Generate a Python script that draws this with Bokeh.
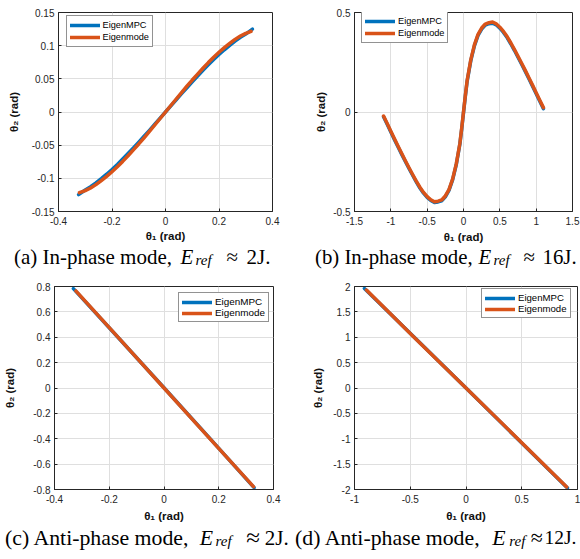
from bokeh.plotting import figure
from bokeh.layouts import column, row
from bokeh.models import Range1d, FixedTicker, Label, Legend, LegendItem
from bokeh.embed import file_html
from bokeh.resources import INLINE

# ---------------- data ----------------
# (a) In-phase mode, E_ref ~ 2 J
a_mpc_x = [-0.325, -0.300, -0.280, -0.260, -0.240, -0.220, -0.200, -0.180, -0.160, -0.140,
           -0.120, -0.100, -0.080, -0.060, -0.040, -0.020, 0.000, 0.020, 0.040, 0.060,
           0.080, 0.100, 0.120, 0.140, 0.160, 0.180, 0.200, 0.220, 0.240, 0.260,
           0.280, 0.300, 0.325]
a_mpc_y = [-0.1245, -0.1175, -0.1125, -0.1068, -0.1005, -0.0938, -0.0866, -0.0790, -0.0710, -0.0627,
           -0.0542, -0.0455, -0.0366, -0.0276, -0.0184, -0.0092, 0.0000, 0.0092, 0.0184, 0.0276,
           0.0366, 0.0455, 0.0542, 0.0627, 0.0710, 0.0790, 0.0866, 0.0938, 0.1005, 0.1068,
           0.1125, 0.1175, 0.1250]
a_mode_x = [-0.322, -0.300, -0.280, -0.260, -0.240, -0.220, -0.200, -0.180, -0.160, -0.140,
            -0.120, -0.100, -0.080, -0.060, -0.040, -0.020, 0.000, 0.020, 0.040, 0.060,
            0.080, 0.100, 0.120, 0.140, 0.160, 0.180, 0.200, 0.220, 0.240, 0.260,
            0.280, 0.300, 0.320]
a_mode_y = [-0.1215, -0.1185, -0.1145, -0.1095, -0.1035, -0.0970, -0.0900, -0.0825, -0.0745, -0.0660,
            -0.0570, -0.0482, -0.0389, -0.0293, -0.0196, -0.0098, 0.0000, 0.0098, 0.0196, 0.0293,
            0.0389, 0.0482, 0.0570, 0.0660, 0.0745, 0.0825, 0.0900, 0.0970, 0.1035, 0.1095,
            0.1145, 0.1185, 0.1215]

# (b) In-phase mode, E_ref ~ 16 J
b_x = [-1.100, -1.050, -1.000, -0.950, -0.900, -0.850, -0.800, -0.750, -0.700, -0.650,
       -0.600, -0.550, -0.500, -0.450, -0.400, -0.350, -0.300, -0.250, -0.200, -0.150,
       -0.100, -0.050, -0.025, 0.000, 0.025, 0.050, 0.100, 0.150, 0.200, 0.250,
       0.300, 0.350, 0.400, 0.450, 0.500, 0.550, 0.600, 0.650, 0.700, 0.750,
       0.800, 0.850, 0.900, 0.950, 1.000, 1.050, 1.100]
b_mpc_y = [-0.024, -0.062, -0.101, -0.139, -0.176, -0.213, -0.249, -0.284, -0.318, -0.351,
           -0.382, -0.408, -0.429, -0.445, -0.455, -0.452, -0.446, -0.426, -0.394, -0.341,
           -0.266, -0.162, -0.086, -0.004, 0.078, 0.154, 0.257, 0.332, 0.385, 0.417,
           0.437, 0.444, 0.446, 0.438, 0.421, 0.400, 0.374, 0.343, 0.310, 0.275,
           0.240, 0.204, 0.167, 0.130, 0.092, 0.054, 0.017]
b_mode_y = [-0.020, -0.058, -0.097, -0.135, -0.172, -0.209, -0.245, -0.280, -0.314, -0.347,
            -0.378, -0.404, -0.425, -0.441, -0.451, -0.448, -0.442, -0.422, -0.390, -0.337,
            -0.262, -0.158, -0.082, 0.000, 0.082, 0.158, 0.262, 0.337, 0.390, 0.422,
            0.442, 0.449, 0.452, 0.443, 0.426, 0.405, 0.379, 0.348, 0.315, 0.280,
            0.245, 0.209, 0.172, 0.135, 0.097, 0.059, 0.022]

# (c) Anti-phase mode, E_ref ~ 2 J
c_mpc_x = [-0.331, -0.165, 0.000, 0.165, 0.329]
c_mpc_y = [0.783, 0.392, 0.002, -0.391, -0.785]
c_mode_x = [-0.322, -0.160, 0.000, 0.160, 0.327]
c_mode_y = [0.765, 0.381, 0.000, -0.381, -0.777]

# (d) Anti-phase mode, E_ref ~ 12 J
d_mpc_x = [-0.911, -0.450, 0.000, 0.450, 0.910]
d_mpc_y = [1.960, 0.970, 0.000, -0.975, -1.970]
d_mode_x = [-0.893, -0.450, 0.000, 0.450, 0.903]
d_mode_y = [1.930, 0.965, 0.000, -0.970, -1.950]

# ticks
a_xticks = [-0.4, -0.2, 0, 0.2, 0.4]
a_xlabels = ["-0.4", "-0.2", "0", "0.2", "0.4"]
a_yticks = [-0.15, -0.1, -0.05, 0, 0.05, 0.1, 0.15]
a_ylabels = ["-0.15", "-0.1", "-0.05", "0", "0.05", "0.1", "0.15"]
b_xticks = [-1.5, -1, -0.5, 0, 0.5, 1, 1.5]
b_xlabels = ["-1.5", "-1", "-0.5", "0", "0.5", "1", "1.5"]
b_yticks = [-0.5, 0, 0.5]
b_ylabels = ["-0.5", "0", "0.5"]
c_xticks = [-0.4, -0.2, 0, 0.2, 0.4]
c_xlabels = ["-0.4", "-0.2", "0", "0.2", "0.4"]
c_yticks = [-0.8, -0.6, -0.4, -0.2, 0, 0.2, 0.4, 0.6, 0.8]
c_ylabels = ["-0.8", "-0.6", "-0.4", "-0.2", "0", "0.2", "0.4", "0.6", "0.8"]
d_xticks = [-1, -0.5, 0, 0.5, 1]
d_xlabels = ["-1", "-0.5", "0", "0.5", "1"]
d_yticks = [-2, -1.5, -1, -0.5, 0, 0.5, 1, 1.5, 2]
d_ylabels = ["-2", "-1.5", "-1", "-0.5", "0", "0.5", "1", "1.5", "2"]

series_names = ["EigenMPC", "Eigenmode"]
captions = [
    ("(a) In-phase mode,", "2J."),
    ("(b) In-phase mode,", "16J."),
    ("(c) Anti-phase mode,", "2J."),
    ("(d) Anti-phase mode,", "12J."),
]

BLUE = "#0072BD"
ORANGE = "#D95319"
DARK = "#262626"
GRID = "#dfdfdf"
SANS = "Liberation Sans"
SERIF = "Liberation Serif"
LABEL_SHIFT = 7  # compensates the label box offset observed in the render


def make_panel(cell, frame, xr, yr, xt, xtl, yt, ytl, mpc, mode, leg, ylab_so, xlab_so, leg_font):
    cx0, cy0, cx1, cy1 = cell
    fx0, fy0, fx1, fy1 = frame
    W = round(cx1 - cx0)
    H = round(cy1 - cy0)
    L = round(fx0 - cx0)
    R = round(cx1 - fx1)
    T = round(fy0 - cy0)
    B = round(cy1 - fy1)
    fw = W - L - R
    fh = H - T - B
    p = figure(width=W, height=H, x_range=Range1d(*xr), y_range=Range1d(*yr),
               output_backend="svg", toolbar_location=None,
               min_border_left=L, min_border_right=R, min_border_top=T, min_border_bottom=B)
    p.background_fill_color = "white"
    p.border_fill_color = "white"
    p.outline_line_color = DARK
    p.outline_line_width = 1

    xtick = FixedTicker(ticks=xt, minor_ticks=[])
    ytick = FixedTicker(ticks=yt, minor_ticks=[])
    for ax, tk, tl in ((p.xaxis[0], xtick, xtl), (p.yaxis[0], ytick, ytl)):
        ax.ticker = tk
        ax.major_label_overrides = {t: s for t, s in zip(tk.ticks, tl)}
        ax.axis_line_color = DARK
        ax.major_tick_line_color = DARK
        ax.major_tick_in = 3
        ax.major_tick_out = 0
        ax.minor_tick_line_color = None
        ax.major_label_text_font = SANS
        ax.major_label_text_font_size = "10px"
        ax.major_label_text_color = DARK
        ax.axis_label_text_font = SANS
        ax.axis_label_text_font_size = "11.5px"
        ax.axis_label_text_font_style = "bold"
        ax.axis_label_text_color = "#111111"
    p.xaxis[0].axis_label = "\u03b8\u2081 (rad)"
    p.yaxis[0].axis_label = "\u03b8\u2082 (rad)"
    p.xaxis[0].major_label_standoff = 5
    p.yaxis[0].major_label_standoff = 4
    p.xaxis[0].axis_label_standoff = xlab_so
    p.yaxis[0].axis_label_standoff = ylab_so

    p.xgrid.ticker = xtick
    p.ygrid.ticker = ytick
    p.xgrid.grid_line_color = GRID
    p.ygrid.grid_line_color = GRID

    lw = 3.5
    r1 = p.line(mpc[0], mpc[1], line_color=BLUE, line_width=lw, line_cap="round", line_join="round")
    r2 = p.line(mode[0], mode[1], line_color=ORANGE, line_width=lw, line_cap="round", line_join="round")

    lx, ly_top, lw_box, lh_box = leg
    row_h = round((lh_box - 5) / 2)
    legend = Legend(items=[LegendItem(label=series_names[0], renderers=[r1]),
                           LegendItem(label=series_names[1], renderers=[r2])],
                    label_text_font=SANS, label_text_font_size=f"{leg_font:.1f}px",
                    label_text_color="#000000",
                    glyph_width=30, glyph_height=row_h, label_height=row_h,
                    label_standoff=3, padding=3, spacing=0, margin=0,
                    border_line_color=DARK, border_line_width=1,
                    background_fill_color="white", background_fill_alpha=1.0)
    if lx >= 0:
        x_off = lx
    else:
        x_off = fw + lx - lw_box
    y_off = fh - ly_top - lh_box
    legend.location = (x_off, y_off)
    p.add_layout(legend)
    return p


def make_caption(cell, cap, pos):
    cx0, cy0, cx1, cy1 = cell
    W = round(cx1 - cx0)
    H = round(cy1 - cy0)
    c = figure(width=W, height=H, x_range=Range1d(0, 1), y_range=Range1d(0, 1),
               output_backend="svg", toolbar_location=None,
               x_axis_type=None, y_axis_type=None,
               min_border_left=0, min_border_right=0, min_border_top=0, min_border_bottom=0)
    c.outline_line_color = None
    c.grid.visible = False
    c.background_fill_color = "white"
    c.border_fill_color = "white"
    prefix, num = cap
    left_abs, e_abs, base_abs, d_ref, d_apx, d_num, fs, fs_num, fs_apx = pos
    y_base = cy1 - base_abs + LABEL_SHIFT

    def lab(txt, xabs, dy, size, style):
        c.add_layout(Label(x=xabs - cx0, y=y_base - dy, x_units="screen", y_units="screen",
                           text=txt, text_font=SERIF, text_font_size=f"{size:.1f}px",
                           text_font_style=style, text_color="#000000",
                           text_align="left", text_baseline="alphabetic"))
    lab(prefix, left_abs, 0, fs, "normal")
    lab("E", e_abs, 0, fs, "italic")
    lab("ref", e_abs + d_ref, 3.3, 15, "italic")
    lab("\u2248", e_abs + d_apx, 0, fs_apx, "normal")
    lab(num, e_abs + d_num, 0, fs_num, "normal")
    return c


pa = make_panel((0, 0, 290, 245), (57.5, 11.5, 272.5, 212.5), (-0.4, 0.4), (-0.15, 0.15),
                a_xticks, a_xlabels, a_yticks, a_ylabels,
                (a_mpc_x, a_mpc_y), (a_mode_x, a_mode_y), (7.5, 7.5, 85, 29), 9, 2, 9.2)
pb = make_panel((290, 0, 580, 245), (353.5, 7, 572, 211.5), (-1.5, 1.5), (-0.5, 0.5),
                b_xticks, b_xlabels, b_yticks, b_ylabels,
                (b_x, b_mpc_y), (b_x, b_mode_y), (7, 8, 87, 28), 3, 3, 9.2)
pc = make_panel((0, 273, 290, 524), (54.3, 285.7, 273.3, 490.3), (-0.4, 0.4), (-0.8, 0.8),
                c_xticks, c_xlabels, c_yticks, c_ylabels,
                (c_mpc_x, c_mpc_y), (c_mode_x, c_mode_y), (-6, 11, 89, 26), 14, 4, 9.9)
pd = make_panel((290, 273, 580, 524), (354, 280, 577, 489.7), (-1, 1), (-2, 2),
                d_xticks, d_xlabels, d_yticks, d_ylabels,
                (d_mpc_x, d_mpc_y), (d_mode_x, d_mode_y), (-7, 15, 89, 24), 6, 4, 9.6)

ca = make_caption((0, 245, 290, 273), captions[0], (13.5, 180, 263, 15, 46, 66, 21, 21, 21))
cb = make_caption((290, 245, 580, 273), captions[1], (314.5, 478, 263, 15, 45, 64, 20.8, 20.8, 20.8))
cc = make_caption((0, 524, 290, 559), captions[2], (4.5, 199.3, 544, 15.7, 46.5, 65, 21.8, 21, 25))
cd = make_caption((290, 524, 580, 559), captions[3], (294.5, 491.7, 544, 17, 38.5, 52.3, 21.8, 19.5, 22))

layout = column(row(pa, pb), row(ca, cb), row(pc, pd), row(cc, cd))
open("out.html", "w").write(file_html(layout, INLINE))
